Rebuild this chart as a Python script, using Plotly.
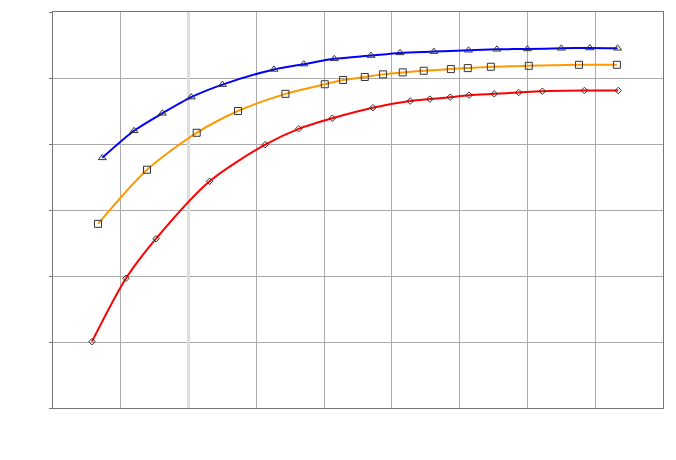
import plotly.graph_objects as go

# Series values (x in grid units, y in grid units)
blue_x = [0.727, 1.195, 1.613, 2.04, 2.50, 3.26, 3.70, 4.15, 4.69, 5.12, 5.62, 6.13, 6.55, 7.00, 7.50, 7.92, 8.33]
blue_y = [3.79, 4.20, 4.465, 4.71, 4.90, 5.13, 5.21, 5.29, 5.34, 5.38, 5.40, 5.42, 5.435, 5.44, 5.45, 5.455, 5.45]

orange_x = [0.664, 1.387, 2.12, 2.73, 3.43, 4.01, 4.28, 4.60, 4.87, 5.16, 5.47, 5.87, 6.12, 6.46, 7.02, 7.76, 8.32]
orange_y = [2.79, 3.61, 4.17, 4.50, 4.76, 4.905, 4.97, 5.015, 5.055, 5.085, 5.11, 5.135, 5.15, 5.17, 5.185, 5.20, 5.20]

red_x = [0.575, 1.077, 1.52, 2.31, 3.13, 3.625, 4.12, 4.72, 5.27, 5.56, 5.86, 6.14, 6.51, 6.87, 7.22, 7.84, 8.34]
red_y = [1.005, 1.965, 2.565, 3.435, 3.99, 4.23, 4.39, 4.55, 4.65, 4.68, 4.71, 4.74, 4.76, 4.78, 4.80, 4.81, 4.81]

x_ticks = list(range(0, 10))
y_ticks = list(range(0, 7))

fig = go.Figure()

series = [
    (red_x, red_y, "#ff0000", "diamond-open", 5),
    (orange_x, orange_y, "#ff9900", "square-open", 7),
    (blue_x, blue_y, "#0000ff", "triangle-up-open", 7),
]
for xs, ys, col, sym, sz in series:
    fig.add_trace(go.Scatter(
        x=xs, y=ys, mode="lines+markers",
        line=dict(color=col, width=2, shape="spline", smoothing=0.8),
        marker=dict(symbol=sym, size=sz, color="#333333", line=dict(width=1, color="#333333")),
        showlegend=False, hoverinfo="skip",
    ))

fig.add_shape(type="line", x0=2, x1=2, y0=0, y1=6, xref="x", yref="y",
              line=dict(color="#dddddd", width=3), layer="between")

fig.update_layout(
    width=676, height=460,
    margin=dict(l=45, r=21, t=4, b=60),
    paper_bgcolor="white", plot_bgcolor="white",
    showlegend=False,
)
fig.update_xaxes(
    range=[0, 9], tickvals=x_ticks, showticklabels=False,
    showgrid=True, gridcolor="#aaaaaa", gridwidth=1,
    showline=True, linecolor="#777777", linewidth=1, mirror=True,
    ticks="", zeroline=False,
)
fig.update_yaxes(
    range=[0, 6], tickvals=y_ticks, showticklabels=False,
    showgrid=True, gridcolor="#aaaaaa", gridwidth=1,
    showline=True, linecolor="#777777", linewidth=1, mirror=True,
    ticks="outside", ticklen=3, tickcolor="#777777", zeroline=False,
)

fig.write_html("out.html")
